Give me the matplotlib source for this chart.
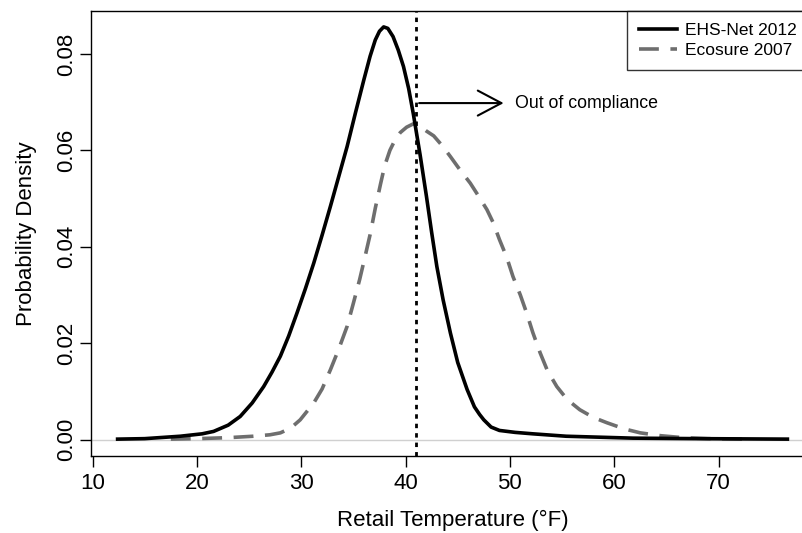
import matplotlib
matplotlib.use("Agg")
import matplotlib.pyplot as plt

plt.rcParams['font.family'] = ['Liberation Sans', 'DejaVu Sans']

# EHS-Net 2012 density
ehs_x = [12.4, 15.0, 18.4, 20.5, 21.6, 23.0, 24.15, 25.3, 26.4, 27.2, 28.0, 28.8,
         29.6, 30.4, 31.2, 32.0, 32.8, 33.6, 34.4, 35.2, 36.0, 36.6, 37.1, 37.5,
         37.9, 38.3, 38.8, 39.3, 39.8, 40.3, 40.75, 41.4, 42.0, 42.5, 43.0, 43.6,
         44.3, 45.0, 45.9, 46.6, 47.1, 47.5, 48.2, 49.0, 50.5, 52.2, 55.4, 61.8,
         68.0, 76.6]
ehs_y = [0.0001, 0.0002, 0.0007, 0.0012, 0.0017, 0.0030, 0.0048, 0.0076, 0.0110,
         0.0140, 0.0173, 0.0215, 0.0263, 0.0313, 0.0366, 0.0424, 0.0484, 0.0546,
         0.0608, 0.0678, 0.0746, 0.0795, 0.0829, 0.0847, 0.0856, 0.0853, 0.0836,
         0.0808, 0.0774, 0.0728, 0.0675, 0.0590, 0.0505, 0.0430, 0.0359, 0.0290,
         0.0221, 0.0160, 0.0104, 0.0068, 0.0052, 0.0041, 0.0026, 0.0019, 0.0015,
         0.0012, 0.0007, 0.0003, 0.0002, 0.0001]

# Ecosure 2007 density
eco_x = [17.5, 20.0, 23.0, 25.4, 27.0, 28.0, 29.0, 29.9, 31.2, 32.0, 32.8, 33.6,
         34.4, 35.0, 35.6, 36.1, 36.6, 37.1, 37.6, 38.0, 38.5, 39.0, 39.5, 40.1,
         40.75, 41.4, 42.0, 42.7, 43.5, 44.3, 45.2, 46.2, 47.0, 47.8, 48.4, 49.0,
         49.7, 50.3, 51.0, 51.6, 52.2, 52.9, 53.6, 54.5, 55.5, 56.7, 58.0, 59.3,
         61.0, 62.5, 64.5, 66.6, 69.0, 72.3]
eco_y = [0.0001, 0.0002, 0.0004, 0.0007, 0.0010, 0.0014, 0.0024, 0.0041, 0.0076,
         0.0105, 0.0145, 0.0188, 0.0235, 0.0283, 0.0332, 0.0378, 0.0425, 0.0480,
         0.0530, 0.0568, 0.0600, 0.0622, 0.0637, 0.0648, 0.0655, 0.0650, 0.0640,
         0.0630, 0.0610, 0.0587, 0.0560, 0.0532, 0.0505, 0.0477, 0.0450, 0.0415,
         0.0378, 0.0338, 0.0300, 0.0263, 0.0222, 0.0180, 0.0143, 0.0110, 0.0083,
         0.0062, 0.0046, 0.0035, 0.0022, 0.0014, 0.0008, 0.0004, 0.0002, 0.0001]

limit_temp = 41
arrow_y = 0.0698
arrow_x = [41.3, 49.4]
x_ticks = [10, 20, 30, 40, 50, 60, 70]
y_ticks = [0.00, 0.02, 0.04, 0.06, 0.08]

fig = plt.figure(figsize=(8.02, 5.33), dpi=100)
# axes run past the right edge, like the cropped original
ax = fig.add_axes([91 / 802, 77 / 533, 723 / 802, 445 / 533])

ax.axhline(0, color='#d0d0d0', lw=1, zorder=1)
ax.plot(ehs_x, ehs_y, color='black', lw=2.6, label='EHS-Net 2012', zorder=3)
ax.plot(eco_x, eco_y, color='#6e6e6e', lw=2.6, dashes=(5.5, 3.2),
        label='Ecosure 2007', zorder=2)
ax.axvline(limit_temp, color='black', lw=2, dashes=(1.6, 1.8), zorder=4)

ax.annotate('', xy=(arrow_x[1], arrow_y), xytext=(arrow_x[0], arrow_y),
            arrowprops=dict(arrowstyle='->,head_length=0.85,head_width=0.45',
                            mutation_scale=20, color='black', lw=1.5,
                            shrinkA=0, shrinkB=0))
ax.text(arrow_x[1] + 1.1, arrow_y, 'Out of compliance', fontsize=12.8,
        va='center', ha='left')

ax.set_xlim(9.85, 79.15)
ax.set_ylim(-0.0034, 0.0889)
ax.set_xticks(x_ticks)
ax.set_yticks(y_ticks)
ax.set_yticklabels(['%.2f' % v for v in y_ticks], rotation=90, va='center')
ax.tick_params(axis='both', labelsize=16, length=8, width=1, direction='out')
ax.tick_params(axis='x', pad=4)
ax.tick_params(axis='y', pad=2)

ax.set_xlabel('Retail Temperature (°F)', fontsize=16, labelpad=12)
ax.set_ylabel('Probability Density', fontsize=16, labelpad=14)

for s in ['left', 'bottom', 'top', 'right']:
    ax.spines[s].set_linewidth(1)

leg = ax.legend(loc='upper left', bbox_to_anchor=(0.741, 1.0), fontsize=12.5,
                frameon=True, fancybox=False, edgecolor='black',
                handlelength=2.2, borderaxespad=0, borderpad=0.7,
                labelspacing=0.25, handletextpad=0.45)
leg.get_frame().set_linewidth(1)

fig.savefig('out.png', dpi=100)
